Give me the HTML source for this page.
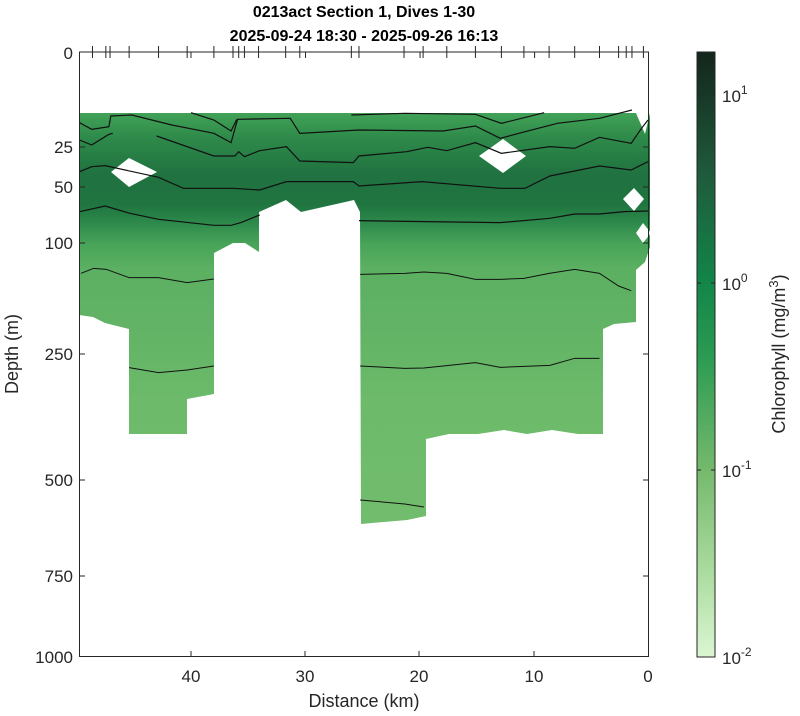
<!DOCTYPE html>
<html><head><meta charset="utf-8"><style>
html,body{margin:0;padding:0;background:#fff;}
svg{display:block;font-family:"Liberation Sans",Arial,sans-serif;}
</style></head><body>
<svg width="800" height="716" viewBox="0 0 800 716" xmlns="http://www.w3.org/2000/svg">
<defs>
<linearGradient id="fg" x1="0" y1="113" x2="0" y2="524" gradientUnits="userSpaceOnUse">
<stop offset="0" stop-color="#42a257"/>
<stop offset="0.06" stop-color="#2e8a4a"/>
<stop offset="0.15" stop-color="#207240"/>
<stop offset="0.22" stop-color="#1f743f"/>
<stop offset="0.26" stop-color="#2a8649"/>
<stop offset="0.32" stop-color="#48a459"/>
<stop offset="0.38" stop-color="#5cb062"/>
<stop offset="0.52" stop-color="#62b365"/>
<stop offset="0.7" stop-color="#6cba6a"/>
<stop offset="1" stop-color="#72bd6d"/>
</linearGradient>
<linearGradient id="cb" x1="0" y1="657" x2="0" y2="52" gradientUnits="userSpaceOnUse">
<stop offset="0" stop-color="#daf6d2"/>
<stop offset="0.15" stop-color="#a8d99c"/>
<stop offset="0.31" stop-color="#74b96c"/>
<stop offset="0.5" stop-color="#2a9a52"/>
<stop offset="0.62" stop-color="#128548"/>
<stop offset="0.8" stop-color="#1f5a3c"/>
<stop offset="1" stop-color="#13261b"/>
</linearGradient>
</defs>
<!-- data fill -->
<polygon fill="url(#fg)" points="79,113 636,113 645,134 650,113 650,247 645,262 636,270 636,322 614,324 603,329 603,434 578,434 552,430 527,434 504,430 478,434 449,434 426,439 426,516 407,520 361,524 360,212 354,200 301,212 286,200 259,212 259,252 245,243 233,243 214,253 214,394 187,399 187,434 129,434 129,329 105,323 93,317 79,315"/>
<!-- lighter left patch -->
<!-- white diamonds -->
<g fill="#fff">
<polygon points="111,172 129,158 157,172 129,187"/>
<polygon points="479,156 503,139 526,156 503,173"/>
<polygon points="623,199 634,188 644,199 634,211"/>
<polygon points="636,233 643,223 651,233 643,243"/>
</g>
<!-- contours zoom2 coords -->
<g transform="translate(61.17,100) scale(0.3818,0.3333)" fill="none" stroke="#111" stroke-width="1.2" vector-effect="non-scaling-stroke">
<polyline vector-effect="non-scaling-stroke" points="48,68 80,88 125,80 130,48 185,45 290,75 400,100 445,128 462,58 600,55 625,100 780,90 1000,93 1085,78 1150,115 1215,95 1300,70 1410,55 1495,30"/>
<polyline vector-effect="non-scaling-stroke" points="340,38 400,60 445,93 460,58"/>
<polyline vector-effect="non-scaling-stroke" points="760,45 900,40 1085,43 1153,70 1265,38"/>
<polyline vector-effect="non-scaling-stroke" points="48,120 80,135 125,103 135,100"/>
<polyline vector-effect="non-scaling-stroke" points="250,108 400,168 455,168 465,155 480,170 520,152 590,140 625,183 765,188 780,168 905,155 960,142 1010,152 1085,128 1153,160 1280,140 1345,145 1410,112 1493,130 1520,85 1537,60"/>
<polyline vector-effect="non-scaling-stroke" points="48,215 80,200 115,197 255,232 320,265 450,265 520,270 590,245 765,245 780,258 945,245 1150,265 1215,265 1280,228 1410,198 1493,210 1537,185"/>
<polyline vector-effect="non-scaling-stroke" points="48,335 115,318 180,340 255,358 400,376 445,376 470,368 520,345"/>
<polyline vector-effect="non-scaling-stroke" points="780,362 1150,368 1280,355 1345,342 1410,342 1475,335 1537,333"/>
</g>
<g transform="translate(61.17,230) scale(0.3818,0.3333)" fill="none" stroke="#111">
<polyline vector-effect="non-scaling-stroke" points="52,130 85,115 118,118 178,143 255,143 330,158 400,147"/>
<polyline vector-effect="non-scaling-stroke" points="783,133 900,130 950,126 1010,130 1085,148 1150,148 1212,145 1278,130 1345,118 1410,130 1460,168 1493,182"/>
<polyline vector-effect="non-scaling-stroke" points="178,413 255,428 330,420 400,408"/>
<polyline vector-effect="non-scaling-stroke" points="783,408 900,415 950,414 1085,398 1150,412 1280,406 1345,385 1410,385"/>
<polyline vector-effect="non-scaling-stroke" points="783,810 900,822 950,831"/>
</g>
<!-- axes box -->
<rect x="79.5" y="52" width="569" height="604.5" fill="none" stroke="#262626" stroke-width="1"/>
<!-- top dive ticks -->
<g transform="translate(61.17,0) scale(0.3818,1)" stroke="#262626">
<path vector-effect="non-scaling-stroke" d="M82,46V58M117,46V58M128,46V58M178,46V58M255,46V58M330,46V58M340,52V58M400,46V58M450,46V58M465,46V58M480,46V58M517,46V58M588,46V58M625,46V58M640,52V58M760,46V58M780,46V58M898,46V58M940,52V58M948,46V58M1010,46V58M1085,46V58M1153,46V58M1212,46V58M1240,52V58M1278,46V58M1345,46V58M1410,46V58M1460,46V58M1480,46V58M1495,46V58M1525,46V58"/>
</g>
<!-- y ticks -->
<g stroke="#262626">
<path d="M79.5,147H85M79.5,187H85M79.5,243H85M79.5,354H85M79.5,480H85M79.5,576H85M648.5,147H643M648.5,187H643M648.5,243H643M648.5,354H643M648.5,480H643M648.5,576H643M191,656.5V651M305,656.5V651M419,656.5V651M534,656.5V651"/>
</g>
<g font-size="17" fill="#262626" text-anchor="end">
<text x="73" y="59">0</text>
<text x="73" y="153">25</text>
<text x="73" y="193">50</text>
<text x="73" y="249">100</text>
<text x="73" y="360">250</text>
<text x="73" y="486">500</text>
<text x="73" y="582">750</text>
<text x="73" y="663">1000</text>
</g>
<g font-size="17" fill="#262626" text-anchor="middle">
<text x="191" y="682">40</text>
<text x="305" y="682">30</text>
<text x="419" y="682">20</text>
<text x="534" y="682">10</text>
<text x="648" y="682">0</text>
<text x="364" y="707" font-size="18">Distance (km)</text>
</g>
<text transform="translate(18,354) rotate(-90)" font-size="18" fill="#262626" text-anchor="middle">Depth (m)</text>
<g font-size="16" font-weight="bold" fill="#000" text-anchor="middle">
<text x="364" y="17">0213act Section 1, Dives 1-30</text>
<text x="364" y="41">2025-09-24 18:30 - 2025-09-26 16:13</text>
</g>
<!-- colorbar -->
<rect x="697" y="52" width="18" height="605" fill="url(#cb)" stroke="#262626" stroke-width="1"/>
<g stroke="#262626">
<path d="M697,95h4M711,95h4M697,283h4M711,283h4M697,470h4M711,470h4"/>
</g>
<g font-size="17" fill="#262626">
<text x="722" y="102">10<tspan dy="-8" font-size="12">1</tspan></text>
<text x="722" y="290">10<tspan dy="-8" font-size="12">0</tspan></text>
<text x="722" y="477">10<tspan dy="-8" font-size="12">-1</tspan></text>
<text x="722" y="664">10<tspan dy="-8" font-size="12">-2</tspan></text>
</g>
<text transform="translate(785,354) rotate(-90)" font-size="18" fill="#262626" text-anchor="middle">Chlorophyll (mg/m<tspan dy="-7" font-size="13">3</tspan><tspan dy="7">)</tspan></text>
</svg>
</body></html>
